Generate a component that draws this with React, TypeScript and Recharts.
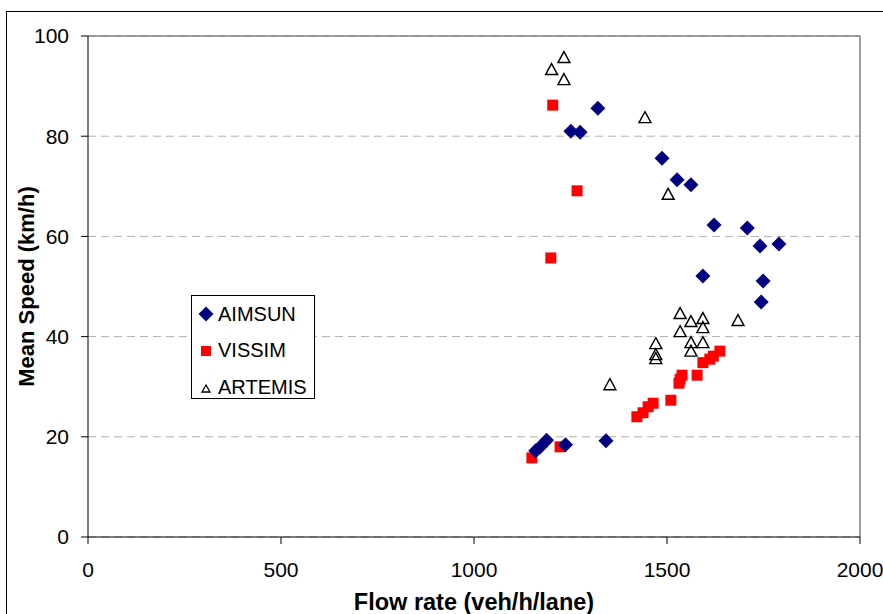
import React from 'react';
import { ScatterChart, Scatter, XAxis, YAxis, CartesianGrid, ReferenceLine } from 'recharts';

const aimsunFlow = [1321, 1251, 1275, 1487, 1526, 1562, 1622, 1708, 1741, 1790, 1593, 1749, 1744, 1160, 1172, 1188, 1237, 1342];
const aimsunSpeed = [85.6, 81.0, 80.8, 75.6, 71.3, 70.3, 62.3, 61.7, 58.1, 58.5, 52.1, 51.1, 46.9, 17.2, 18.0, 19.3, 18.4, 19.2];

const vissimFlow = [1204, 1267, 1199, 1150, 1223, 1422, 1438, 1451, 1464, 1510, 1531, 1534, 1539, 1578, 1593, 1611, 1620, 1637];
const vissimSpeed = [86.2, 69.1, 55.7, 15.8, 18.0, 24.0, 24.8, 26.0, 26.7, 27.3, 30.7, 31.5, 32.3, 32.3, 34.8, 35.5, 36.1, 37.1];

const artemisFlow = [1233, 1201, 1233, 1443, 1503, 1352, 1471, 1471, 1471, 1534, 1534, 1562, 1562, 1562, 1593, 1593, 1593, 1684];
const artemisSpeed = [95.8, 93.4, 91.4, 83.8, 68.5, 30.5, 38.7, 36.5, 35.7, 44.7, 41.1, 43.1, 38.9, 37.2, 43.7, 41.9, 38.9, 43.3];

const seriesNames = ['AIMSUN', 'VISSIM', 'ARTEMIS'];
const xTicks = [0, 500, 1000, 1500, 2000];
const yTicks = [0, 20, 40, 60, 80, 100];

const toPoints = (xs: number[], ys: number[]) => xs.map((x, i) => ({ x, y: ys[i] }));
const aimsun = toPoints(aimsunFlow, aimsunSpeed);
const vissim = toPoints(vissimFlow, vissimSpeed);
const artemis = toPoints(artemisFlow, artemisSpeed);

const FONT = '"Liberation Sans", Arial, sans-serif';

const Diamond = (props: any) => {
  const { cx, cy } = props;
  const r = 7.5;
  return <polygon points={`${cx},${cy - r} ${cx + r},${cy} ${cx},${cy + r} ${cx - r},${cy}`} fill="#000080" />;
};
const Square = (props: any) => {
  const { cx, cy } = props;
  const s = 11;
  return <rect x={cx - s / 2} y={cy - s / 2} width={s} height={s} fill="#ff0000" />;
};
const Triangle = (props: any) => {
  const { cx, cy } = props;
  return (
    <polygon
      points={`${cx},${cy - 5.5} ${cx + 6},${cy + 5.5} ${cx - 6},${cy + 5.5}`}
      fill="none"
      stroke="#000"
      strokeWidth={1.4}
    />
  );
};

const legendIcons = [
  <svg width={18} height={18}><polygon points="9,1.5 16.5,9 9,16.5 1.5,9" fill="#000080" /></svg>,
  <svg width={18} height={18}><rect x={4} y={4} width={10} height={10} fill="#ff0000" /></svg>,
  <svg width={18} height={18}><polygon points="9,7 13,14 5,14" fill="none" stroke="#000" strokeWidth={1.3} /></svg>,
];

const LegendBox = () => (
  <div
    style={{
      position: 'absolute',
      left: 191,
      top: 295,
      border: '1.5px solid #000',
      background: '#fff',
      width: 124,
      height: 104,
      boxSizing: 'border-box',
      fontFamily: FONT,
      fontSize: 20,
      color: '#000',
    }}
  >
    {seriesNames.map((name, i) => (
      <div key={name} style={{ position: 'absolute', left: 5, top: 5 + i * 36.5, display: 'flex', alignItems: 'center', height: 26 }}>
        {legendIcons[i]}
        <span style={{ marginLeft: 3 }}>{name}</span>
      </div>
    ))}
  </div>
);

export default function App() {
  return (
    <div style={{ position: 'absolute', left: 0, top: 0, width: 883, height: 614, overflow: 'hidden', background: '#fff' }}>
      <div style={{ position: 'absolute', left: 6, top: 11, width: 900, height: 700, border: '1px solid #000' }} />
      <div style={{ position: 'absolute', left: 0, top: 0 }}>
        <ScatterChart width={883} height={614} margin={{ top: 36, right: 23, bottom: 0, left: 0 }}>
          <CartesianGrid horizontal vertical={false} stroke="#b0b0b0" strokeDasharray="8 5" />
          <XAxis
            type="number"
            dataKey="x"
            domain={[0, 2000]}
            ticks={xTicks}
            interval={0}
            height={77}
            stroke="#000"
            tickSize={7}
            tick={{ fill: '#000', fontSize: 21, fontFamily: FONT }}
            tickMargin={18}
            label={{ value: 'Flow rate (veh/h/lane)', position: 'insideBottom', offset: 4, fill: '#000', fontSize: 23.5, fontWeight: 'bold', fontFamily: FONT }}
          />
          <YAxis
            type="number"
            dataKey="y"
            domain={[0, 100]}
            ticks={yTicks}
            interval={0}
            width={88}
            stroke="#000"
            tickSize={7}
            tick={{ fill: '#000', fontSize: 21, fontFamily: FONT }}
            tickMargin={12}
            label={{ value: 'Mean Speed (km/h)', angle: -90, position: 'insideLeft', offset: 26, style: { textAnchor: 'middle' }, fill: '#000', fontSize: 22, fontWeight: 'bold', fontFamily: FONT }}
          />
          <ReferenceLine y={100} stroke="#808080" strokeWidth={1.5} />
          <ReferenceLine x={2000} stroke="#808080" strokeWidth={1.5} />
          <Scatter name={seriesNames[2]} data={artemis} shape={Triangle} isAnimationActive={false} />
          <Scatter name={seriesNames[1]} data={vissim} shape={Square} isAnimationActive={false} />
          <Scatter name={seriesNames[0]} data={aimsun} shape={Diamond} isAnimationActive={false} />
        </ScatterChart>
      </div>
      <LegendBox />
    </div>
  );
}
